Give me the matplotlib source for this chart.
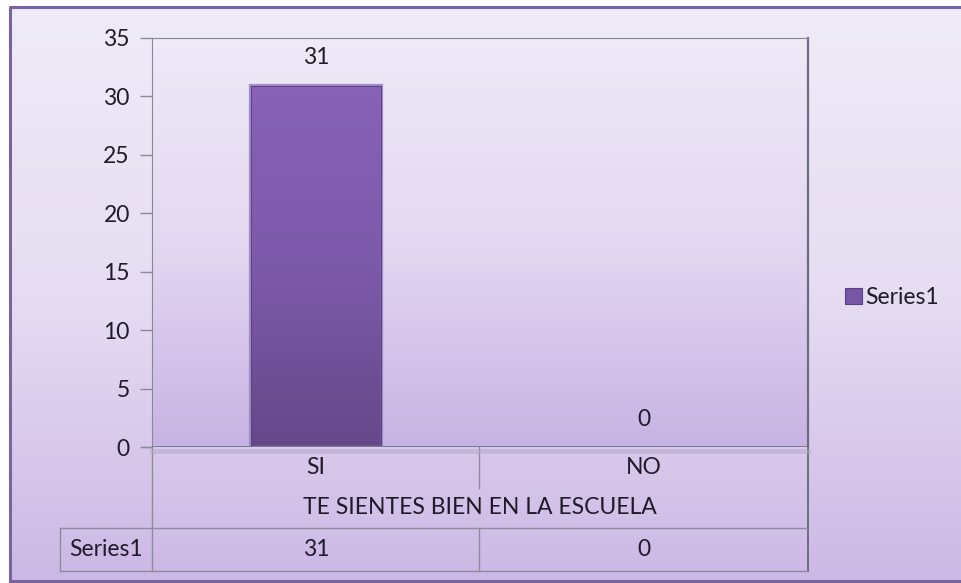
import numpy as np
import matplotlib
matplotlib.use("Agg")
import matplotlib.pyplot as plt
from matplotlib.colors import LinearSegmentedColormap
from matplotlib.patches import Rectangle

categories = ["SI", "NO"]
values = [31, 0]
series_name = "Series1"
axis_title = "TE SIENTES BIEN EN LA ESCUELA"
yticks = [0, 5, 10, 15, 20, 25, 30, 35]

W, H = 962, 583
plt.rcParams['font.family'] = ['Lato', 'DejaVu Sans']
FS = 16.5
TXT = '#1f1b2a'

fig = plt.figure(figsize=(W / 100, H / 100), dpi=100)

# background canvas in pixel coordinates
bg = fig.add_axes([0, 0, 1, 1])
bg.set_xlim(0, W)
bg.set_ylim(H, 0)
bg.axis('off')
grad = np.linspace(0, 1, 256).reshape(-1, 1)
bgcmap = LinearSegmentedColormap.from_list('bg', ['#f0ebf8', '#e6ddf2', '#cbb8e5'])
bg.imshow(grad, cmap=bgcmap, extent=[0, W, H, 0], aspect='auto', zorder=0)
# outer border
bg.plot([10, 10, W + 5], [581, 7, 7], color='#7a64a0', lw=2.2, zorder=2)
bg.plot([10, W + 5], [581, 581], color='#7a64a0', lw=2.2, zorder=2)
bg.add_patch(Rectangle((0, 0), 10, H, color='white', zorder=1))
bg.add_patch(Rectangle((0, 0), W, 7, color='white', zorder=1))

# plot area
L, R, T, B = 152, 808, 38, 447
ax = fig.add_axes([L / W, 1 - B / H, (R - L) / W, (B - T) / H])
ax.set_xlim(-0.5, 1.5)
ax.set_ylim(0, 35)
pcmap = LinearSegmentedColormap.from_list('pa', ['#efe9f8', '#e3d8f1', '#c7b3e3'])
ax.imshow(grad, cmap=pcmap, extent=[-0.5, 1.5, 0, 35], aspect='auto', zorder=0)

bars = ax.bar(range(len(categories)), values, width=0.405, color='none', zorder=2)
barcmap = LinearSegmentedColormap.from_list('bar', ['#8762b6', '#7c5aaa', '#654889'])
for p in bars:
    if p.get_height() > 0:
        x0, w, h = p.get_x(), p.get_width(), p.get_height()
        im = ax.imshow(grad, cmap=barcmap, extent=[x0, x0 + w, 0, h], aspect='auto', zorder=2)
        im.set_clip_path(p)
        ax.add_patch(Rectangle((x0, 0), w, h, fill=False, ec='#a08ac8', lw=1.6, zorder=3))
        ax.add_patch(Rectangle((x0 + 0.005, 0), w - 0.01, h - 0.12, fill=False, ec='#5b417d', lw=0.7, zorder=3))
for i, v in enumerate(values):
    ax.annotate(str(v), (i, v), xytext=(0, 12), textcoords='offset points',
                ha='center', va='bottom', fontsize=FS, color=TXT)

ax.set_yticks(yticks)
ax.set_yticklabels([str(t) for t in yticks], fontsize=FS, color=TXT)
ax.tick_params(axis='y', length=9, width=1, color='#8a8a9a', pad=7)
ax.set_xticks([])
ax.spines['bottom'].set_visible(False)
ax.spines['left'].set_color('#8a8896')
ax.spines['top'].set_color('#8a8896')
ax.spines['right'].set_color('#6e6a80')
ax.spines['right'].set_linewidth(1.6)
# floor line with shadow
ax.axhline(0, color='#7d7a8c', lw=1.4, zorder=4)
ax.axhline(-0.3, color='#b3a6c9', lw=3.5, zorder=1, clip_on=False, alpha=0.5)

# data table in pixel coordinates
lc = '#8f8a9e'
lw = 1.0
bg.plot([L, L], [B, 571], color=lc, lw=lw, zorder=3)
bg.plot([R, R], [B, 571], color='#6e6a80', lw=1.4, zorder=3)
bg.plot([479, 479], [B, 488], color=lc, lw=lw, zorder=3)
bg.plot([479, 479], [528, 571], color=lc, lw=lw, zorder=3)
bg.plot([60, R], [528, 528], color=lc, lw=lw, zorder=3)
bg.plot([60, R], [571, 571], color=lc, lw=lw, zorder=3)
bg.plot([60, 60], [528, 571], color=lc, lw=lw, zorder=3)
bg.plot([143, L], [B, B], color=lc, lw=lw, zorder=3)

cat_x = [ax.transData.transform((i, 0))[0] for i in range(len(categories))]
for cx, c, v in zip(cat_x, categories, values):
    bg.text(cx, 467, c, ha='center', va='center', fontsize=FS, color=TXT, zorder=5)
    bg.text(cx, 550, str(v), ha='center', va='center', fontsize=FS, color=TXT, zorder=5)
bg.text((L + R) / 2, 508, axis_title, ha='center', va='center', fontsize=FS, color=TXT, zorder=5)
bg.text(106, 550, series_name, ha='center', va='center', fontsize=FS, color=TXT, zorder=5)

# legend
bg.add_patch(Rectangle((845, 288), 17, 16, facecolor='#7856a6', edgecolor='#5a3f82', lw=0.8, zorder=5))
bg.text(865, 297, series_name, ha='left', va='center', fontsize=FS, color=TXT, zorder=5)

fig.savefig('out.png', dpi=100)
